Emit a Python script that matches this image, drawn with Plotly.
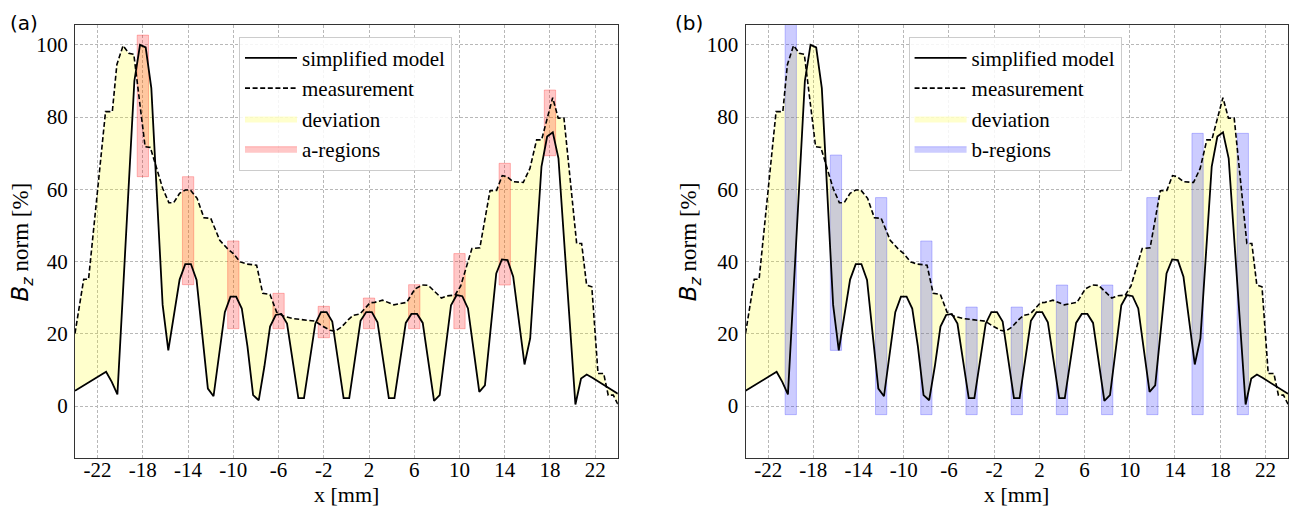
import plotly.graph_objects as go

# ---------------- data ----------------
model_x = [-24, -23.75, -23.25, -22.75, -22.25, -21.75, -21.25, -20.75, -20.25, -19.75, -19.25, -18.75,
           -18.25, -17.75, -17.25, -16.75, -16.25, -15.75, -15.25, -14.75, -14.25, -13.75, -13.25, -12.75,
           -12.25, -11.75, -11.25, -10.75, -10.25, -9.75, -9.25, -8.75, -8.25, -7.75, -7.25, -6.75,
           -6.25, -5.75, -5.25, -4.75, -4.25, -3.75, -3.25, -2.75, -2.25, -1.75, -1.25, -0.75,
           -0.25, 0.25, 0.75, 1.25, 1.75, 2.25, 2.75, 3.25, 3.75, 4.25, 4.75, 5.25,
           5.75, 6.25, 6.75, 7.25, 7.75, 8.25, 8.75, 9.25, 9.75, 10.25, 10.75, 11.25,
           11.75, 12.25, 12.75, 13.25, 13.75, 14.25, 14.75, 15.25, 15.75, 16.25, 16.75, 17.25,
           17.75, 18.25, 18.75, 19.25, 19.75, 20.25, 20.75, 21.25, 21.75, 22.25, 22.75, 23.25, 23.75, 24]
model_y = [4.2, 4.7, 5.6, 6.6, 7.6, 8.7, 9.5, 6.7, 3.2, 32, 60, 90,
           100, 99.3, 88, 58, 28, 15.4, 25.3, 35, 39.3, 39.3, 34.9, 19,
           4.8, 2.7, 14.7, 26, 30.3, 30.3, 27, 16.5, 3.0, 1.6, 11, 22,
           25.2, 25.5, 22.8, 13, 2.2, 2.2, 13, 22.8, 26, 26, 23.4, 12.8,
           2.2, 2.2, 13, 23.6, 26, 26, 23.2, 12.8, 2.2, 2.2, 12.6, 23,
           25.5, 25.5, 23, 12, 1.4, 3.0, 15.5, 27.9, 30.7, 30.4, 27, 15,
           3.9, 5.7, 21, 36.7, 40.6, 40.4, 35.8, 23, 11.5, 18.7, 42.5, 66.3,
           74.6, 75.8, 68.6, 45.9, 23, 0.4, 7.6, 8.7, 7.8, 6.8, 5.9, 4.9, 3.9, 3.4]

meas_x = [-24, -23.23, -22.8, -21.3, -20.7, -20.3, -19.75, -19.25, -18.8, -18.25, -17.8, -17.34,
          -16.75, -16.25, -15.7, -15.27, -14.75, -14.25, -13.8, -13.2, -12.6, -12.0, -11.2, -10.5,
          -10.0, -9.4, -8.8, -7.94, -7.4, -6.76, -6.17, -5.58, -4.7, -3.66, -2.8, -2.05,
          -1.45, -1.0, -0.42, 0.2, 0.6, 1.2, 1.64, 2.1, 2.5, 3.2, 4.2, 5.33,
          6.06, 6.7, 7.24, 8.4, 8.9, 9.6, 10.1, 11.1, 11.8, 12.7, 13.28, 13.78,
          14.2, 14.75, 15.64, 16.23, 16.82, 17.26, 18.24, 18.73, 19.24, 20.36, 20.8, 21.24,
          21.7, 22.25, 22.75, 23.15, 23.6, 24]
meas_y = [20.1, 35.1, 35.1, 81.5, 81.5, 94.5, 99.8, 97.7, 97.4, 83.6, 71.8, 71.6,
          65.5, 60.3, 56.3, 56.3, 58.9, 59.8, 59.8, 57.5, 52.1, 52.0, 45.9, 43.5,
          42.2, 39.9, 39.3, 39.0, 31.2, 30.9, 26.0, 24.9, 24.2, 23.8, 23.5, 22.0,
          21.0, 20.7, 21.9, 24.0, 25.1, 25.5, 27.0, 28.6, 28.7, 29.3, 28.0, 28.7,
          32.4, 33.5, 33.4, 29.9, 30.5, 30.7, 33.2, 43.6, 43.8, 59.6, 59.7, 63.8,
          63.5, 62.1, 61.9, 65.8, 73.7, 73.7, 85.4, 79.7, 79.7, 45.0, 45.0, 33.5,
          33.0, 9.0, 9.0, 3.0, 3.0, 0.5]

a_centers = [-18, -14, -10, -6, -2, 2, 6, 10, 14, 18]
a_bottom = [63.5, 33.6, 21.4, 21.4, 18.9, 21.4, 21.4, 21.4, 33.5, 69.3]
a_top = [102.7, 63.5, 45.7, 31.2, 27.6, 29.9, 33.6, 42.2, 67.2, 87.5]

b_centers = [-20, -16, -12, -8, -4, 0, 4, 8, 12, 16, 20]
b_bottom = [-2.4, 15.4, -2.4, -2.4, -2.4, -2.4, -2.4, -2.4, -2.4, -2.4, -2.4]
b_top = [106, 69.5, 57.7, 45.7, 27.4, 27.4, 33.5, 33.5, 57.7, 75.5, 75.5]

x_ticks = [-22, -18, -14, -10, -6, -2, 2, 6, 10, 14, 18, 22]
x_ticklabels = ["-22", "-18", "-14", "-10", "-6", "-2", "2", "6", "10", "14", "18", "22"]
y_ticks = [0, 20, 40, 60, 80, 100]

# ---------------- style ----------------
SERIF = "Liberation Serif"
BOX_W = 1.0
X_RANGE = [-24, 24]
Y_RANGE = [-14.4, 105.5]


def boxes(centers, bottoms, tops):
    xs, ys = [], []
    for c, b, t in zip(centers, bottoms, tops):
        xs += [c - BOX_W / 2, c + BOX_W / 2, c + BOX_W / 2, c - BOX_W / 2, c - BOX_W / 2, None]
        ys += [b, b, t, t, b, None]
    return xs, ys


fig = go.Figure()

panels = [
    ("x", "y", "x3", "legend", "a-regions", boxes(a_centers, a_bottom, a_top),
     "rgba(255,0,0,0.22)", "rgba(255,0,0,0.25)"),
    ("x2", "y2", "x4", "legend2", "b-regions", boxes(b_centers, b_bottom, b_top),
     "rgba(0,0,255,0.2)", "rgba(0,0,255,0.22)"),
]

for xa, ya, xlab, lg, rname, (bx, by), bfill, bline in panels:
    fig.add_trace(go.Scatter(
        x=meas_x + model_x[::-1], y=meas_y + model_y[::-1],
        fill="toself", fillcolor="rgba(255,255,0,0.2)", mode="lines",
        line=dict(width=0, color="rgba(0,0,0,0)"), name="deviation",
        legend=lg, legendrank=3, xaxis=xa, yaxis=ya, hoverinfo="skip"))
    fig.add_trace(go.Scatter(
        x=bx, y=by, fill="toself", fillcolor=bfill, mode="lines",
        line=dict(width=1, color=bline), name=rname,
        legend=lg, legendrank=4, xaxis=xa, yaxis=ya, hoverinfo="skip"))
    fig.add_trace(go.Scatter(
        x=model_x, y=model_y, mode="lines", line=dict(color="black", width=1.8),
        name="simplified model", legend=lg, legendrank=1, xaxis=xa, yaxis=ya))
    fig.add_trace(go.Scatter(
        x=meas_x, y=meas_y, mode="lines",
        line=dict(color="black", width=1.6, dash="5px,2.6px"),
        name="measurement", legend=lg, legendrank=2, xaxis=xa, yaxis=ya))
    # invisible carrier trace for the tick-label axis
    fig.add_trace(go.Scatter(
        x=model_x, y=model_y, mode="lines", line=dict(width=0, color="rgba(0,0,0,0)"),
        showlegend=False, hoverinfo="skip", xaxis=xlab, yaxis=ya))

axis_common = dict(
    showline=True, linecolor="#333333", linewidth=1.3, mirror=True,
    ticks="", showgrid=True, gridcolor="#b8b8b8", gridwidth=0.8, griddash="3px,2px",
    zeroline=False, tickfont=dict(family=SERIF, size=21, color="black"),
)
label_axis = dict(
    range=X_RANGE, tickvals=x_ticks, ticktext=x_ticklabels, anchor="free", position=0.008,
    showline=False, showgrid=False, zeroline=False, ticks="",
    tickfont=dict(family=SERIF, size=21, color="black"),
)

fig.update_layout(
    width=1291, height=511,
    margin=dict(l=75, r=3, t=25, b=53),
    paper_bgcolor="white", plot_bgcolor="white",
    showlegend=True,
    xaxis=dict(domain=[0, 0.4475], range=X_RANGE, tickvals=x_ticks, showticklabels=False, **axis_common),
    yaxis=dict(range=Y_RANGE, tickvals=y_ticks, ticklabelstandoff=2, **axis_common),
    xaxis2=dict(domain=[0.5528, 1], range=X_RANGE, tickvals=x_ticks, showticklabels=False,
                anchor="y2", **axis_common),
    yaxis2=dict(range=Y_RANGE, tickvals=y_ticks, anchor="x2", ticklabelstandoff=2, **axis_common),
    xaxis3=dict(overlaying="x", **label_axis),
    xaxis4=dict(overlaying="x2", **label_axis),
)

legend_common = dict(
    yanchor="top", xanchor="left", y=0.973,
    bgcolor="rgba(255,255,255,0.85)", bordercolor="#cccccc", borderwidth=1,
    font=dict(family=SERIF, size=21, color="black"), tracegroupgap=0, itemwidth=52,
)
fig.update_layout(legend=dict(x=0.1352, **legend_common),
                  legend2=dict(x=0.6872, **legend_common))

ytitle = "<span style=\"font-family:'DejaVu Sans'\"><i>B</i><sub><i>z</i></sub></span> norm [%]"
for xp in [0.2238, 0.7764]:
    fig.add_annotation(xref="paper", yref="paper", x=xp, y=-0.0839, text="x [mm]",
                       showarrow=False, xanchor="center", yanchor="middle",
                       font=dict(family=SERIF, size=22, color="black"))
for xp in [-0.0437, 0.5069]:
    fig.add_annotation(xref="paper", yref="paper", x=xp, y=0.5, text=ytitle, textangle=-90,
                       showarrow=False, xanchor="center", yanchor="middle",
                       font=dict(family=SERIF, size=23, color="black"))
for txt, xp in [("(a)", -0.0552), ("(b)", 0.4929)]:
    fig.add_annotation(xref="paper", yref="paper", x=xp, y=1.0046, text=txt, showarrow=False,
                       xanchor="left", yanchor="middle",
                       font=dict(family="DejaVu Sans", size=20, color="black"))

fig.write_html("out.html")
